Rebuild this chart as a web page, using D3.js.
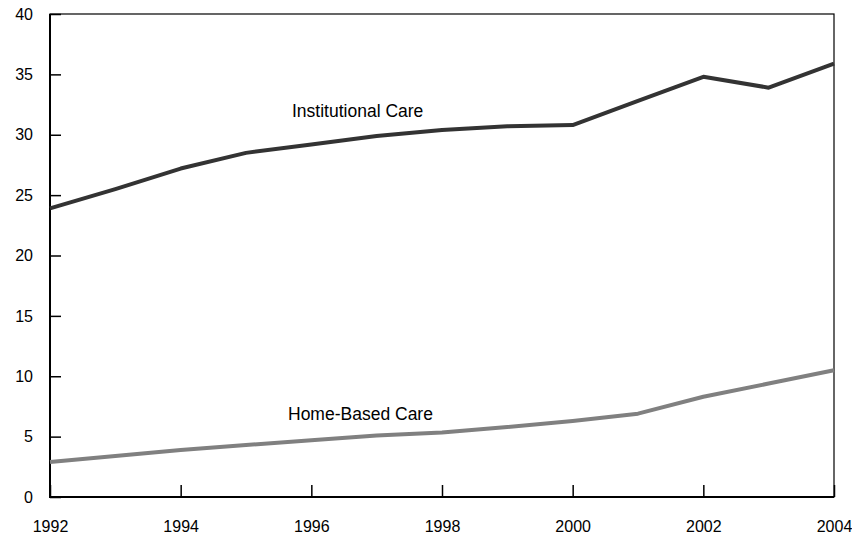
<!DOCTYPE html>
<html>
<head>
<meta charset="utf-8">
<script src="https://cdn.jsdelivr.net/npm/d3@7"></script>
<style>
  html, body { margin: 0; padding: 0; background: #fff; }
  svg { display: block; font-family: "Liberation Sans", Arial, sans-serif; }
</style>
</head>
<body>
<svg id="chart" width="852" height="535"></svg>
<script>
const years = [1992, 1993, 1994, 1995, 1996, 1997, 1998, 1999, 2000, 2001, 2002, 2003, 2004];
const institutional = [23.9, 25.5, 27.2, 28.5, 29.2, 29.9, 30.4, 30.7, 30.8, 32.8, 34.8, 33.9, 35.9];
const homeBased = [2.9, 3.4, 3.9, 4.3, 4.7, 5.1, 5.35, 5.8, 6.3, 6.9, 8.3, 9.4, 10.5];
const yTicks = [0, 5, 10, 15, 20, 25, 30, 35, 40];
const xTicks = [1992, 1994, 1996, 1998, 2000, 2002, 2004];
const seriesLabels = ["Institutional Care", "Home-Based Care"];

const svg = d3.select("#chart");
const m = { left: 50, right: 18, top: 14, bottom: 38 };
const W = 852, H = 535;
const x = d3.scaleLinear().domain([1992, 2004]).range([m.left, W - m.right]);
const y = d3.scaleLinear().domain([0, 40]).range([H - m.bottom, m.top]);

// frame (top & right thin)
svg.append("rect")
  .attr("x", x(1992)).attr("y", y(40))
  .attr("width", x(2004) - x(1992)).attr("height", y(0) - y(40))
  .attr("fill", "none").attr("stroke", "#000").attr("stroke-width", 1.2);

// y axis
const yAxis = svg.append("g").attr("transform", `translate(${x(1992)},0)`)
  .call(d3.axisLeft(y).tickValues(yTicks).tickSize(-11).tickPadding(17).tickFormat(d3.format("d")));
yAxis.select(".domain").remove();
yAxis.selectAll(".tick line").attr("stroke", "#000").attr("stroke-width", 1.5);
yAxis.selectAll("text").attr("font-size", 16).attr("fill", "#000")
  .attr("font-family", "Liberation Sans, Arial, sans-serif");

// x axis
const xAxis = svg.append("g").attr("transform", `translate(0,${y(0)})`)
  .call(d3.axisBottom(x).tickValues(xTicks).tickSize(-12).tickPadding(24).tickFormat(d3.format("d")));
xAxis.select(".domain").remove();
xAxis.selectAll(".tick line").attr("stroke", "#000").attr("stroke-width", 1.5);
xAxis.selectAll("text").attr("font-size", 16).attr("fill", "#000")
  .attr("font-family", "Liberation Sans, Arial, sans-serif");

// thick left and bottom axis lines
svg.append("line").attr("x1", x(1992)).attr("x2", x(1992)).attr("y1", y(40)).attr("y2", y(0) + 1)
  .attr("stroke", "#000").attr("stroke-width", 2);
svg.append("line").attr("x1", x(1992) - 1).attr("x2", x(2004)).attr("y1", y(0)).attr("y2", y(0))
  .attr("stroke", "#000").attr("stroke-width", 2);

const line = d3.line().x((d, i) => x(years[i])).y(d => y(d));

svg.append("path").datum(homeBased).attr("d", line)
  .attr("fill", "none").attr("stroke", "#808080").attr("stroke-width", 4).attr("stroke-linejoin", "round");
svg.append("path").datum(institutional).attr("d", line)
  .attr("fill", "none").attr("stroke", "#333333").attr("stroke-width", 4).attr("stroke-linejoin", "round");

// series labels
svg.append("text").attr("x", 292).attr("y", 117).attr("font-size", 17.5).attr("fill", "#000")
  .text(seriesLabels[0]);
svg.append("text").attr("x", 288).attr("y", 420).attr("font-size", 17.5).attr("fill", "#000")
  .text(seriesLabels[1]);
</script>
</body>
</html>
